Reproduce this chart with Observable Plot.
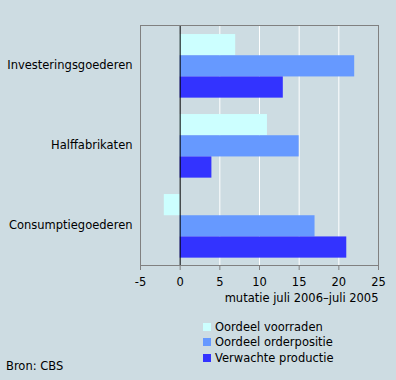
<!DOCTYPE html>
<html><head><meta charset="utf-8">
<script src="https://cdn.jsdelivr.net/npm/d3@7"></script>
<script src="https://cdn.jsdelivr.net/npm/@observablehq/plot@0.6"></script>
<style>
html,body{margin:0;padding:0;background:#cddce2;}
body{font-family:"DejaVu Sans",Verdana,sans-serif;font-size:11.5px;color:#000;}
#wrap{position:relative;width:396px;height:380px;overflow:hidden;}
#chart{position:absolute;left:0;top:0;}
#legend{position:absolute;left:203px;top:319px;}
.row{display:flex;align-items:center;height:15.5px;}
.sw{width:8px;height:8px;margin-right:4px;}
#source{position:absolute;left:6px;top:359px;}
</style></head>
<body><div id="wrap"><div id="chart"></div><div id="legend"></div><div id="source"></div></div>
<script>
const categories = ["Investeringsgoederen", "Halffabrikaten", "Consumptiegoederen"];
const seriesNames = ["Oordeel voorraden", "Oordeel orderpositie", "Verwachte productie"];
const voorraden = [7, 11, -2];
const orderpositie = [22, 15, 17];
const productie = [13, 4, 21];
const xTicks = [-5, 0, 5, 10, 15, 20, 25];
const colors = ["#ccffff", "#6699ff", "#3333ff"];
const xLabel = "mutatie juli 2006–juli 2005";
const sourceText = "Bron: CBS";

const seriesValues = [voorraden, orderpositie, productie];
const pad = 0.113, bh = 0.265;
const data = [];
categories.forEach((c, g) => {
  seriesValues.forEach((vals, s) => {
    data.push({cat: c, g, s, series: seriesNames[s], value: vals[g]});
  });
});

const chart = Plot.plot({
  width: 396,
  height: 312,
  marginTop: 25,
  marginBottom: 47,
  marginLeft: 140,
  marginRight: 18,
  style: {background: "transparent", fontFamily: "DejaVu Sans, Verdana, sans-serif", fontSize: "11.5px", color: "#000"},
  x: {domain: [xTicks[0], xTicks[xTicks.length - 1]]},
  y: {domain: [0, categories.length], reverse: true},
  color: {domain: seriesNames, range: colors},
  marks: [
    Plot.ruleX(xTicks.filter(v => v !== 0 && v !== xTicks[0] && v !== xTicks[xTicks.length - 1]), {stroke: "#ffffff", strokeWidth: 1}),
    Plot.rect(data, {
      x1: 0,
      x2: "value",
      y1: d => d.g + pad + d.s * bh,
      y2: d => d.g + pad + (d.s + 1) * bh,
      fill: "series"
    }),
    Plot.ruleX([0], {stroke: "#000000", strokeWidth: 1}),
    Plot.frame({stroke: "#808080"}),
    Plot.axisX({ticks: xTicks, tickFormat: d => String(d), tickSize: 5, tickPadding: 7, stroke: "#808080", fill: "#000", label: null}),
    Plot.axisY({ticks: categories.map((c, i) => i + 0.5), tickFormat: v => categories[Math.floor(v)], tickSize: 0, tickPadding: 8, label: null}),
    Plot.text([xLabel], {frameAnchor: "bottom-right", textAnchor: "end", dy: 36, fill: "#000"})
  ]
});
document.getElementById("chart").appendChild(chart);

const legend = document.getElementById("legend");
seriesNames.forEach((n, i) => {
  const row = document.createElement("div");
  row.className = "row";
  const sw = document.createElement("span");
  sw.className = "sw";
  sw.style.background = colors[i];
  const t = document.createElement("span");
  t.textContent = n;
  row.appendChild(sw);
  row.appendChild(t);
  legend.appendChild(row);
});
document.getElementById("source").textContent = sourceText;
</script>
</body></html>
